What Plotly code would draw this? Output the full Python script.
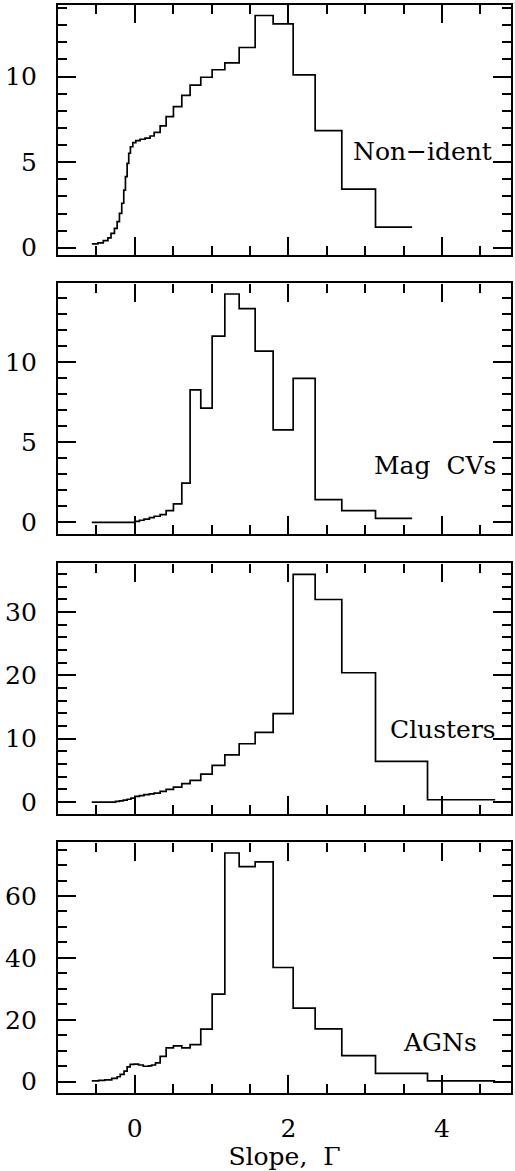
import plotly.graph_objects as go

# ---------------- data ----------------
NONIDENT_EDGES = [-0.56, -0.48, -0.41, -0.35, -0.31, -0.265, -0.23, -0.20, -0.17, -0.144,
                  -0.122, -0.10, -0.079, -0.057, -0.026, 0.013, 0.069, 0.134, 0.199,
                  0.252, 0.33, 0.408, 0.503, 0.612, 0.72, 0.859, 1.007, 1.172, 1.359,
                  1.567, 1.801, 2.062, 2.348, 2.695, 3.134, 3.611]
NONIDENT_VALUES = [0.22, 0.29, 0.41, 0.58, 0.84, 1.13, 1.52, 2.01, 2.6, 3.37,
                   4.15, 4.93, 5.52, 5.9, 6.14, 6.26, 6.34, 6.41, 6.53,
                   6.74, 7.12, 7.66, 8.25, 8.9, 9.5, 9.96, 10.4, 10.8, 11.7,
                   13.57, 13.08, 10.1, 6.84, 3.43, 1.21]

MAGCV_EDGES = [-0.56, 0.0, 0.06, 0.12, 0.19,
               0.252, 0.33, 0.408, 0.503, 0.612, 0.72, 0.859, 1.007, 1.172, 1.359,
               1.567, 1.801, 2.062, 2.348, 2.695, 3.134, 3.611]
MAGCV_VALUES = [0.0, 0.06, 0.13, 0.2, 0.3,
                0.38, 0.48, 0.73, 1.15, 2.45, 8.29, 7.14, 11.65, 14.28, 13.36,
                10.71, 5.78, 9.0, 1.42, 0.73, 0.25]

CLUSTER_EDGES = [-0.56, -0.25, -0.2, -0.15, -0.1, -0.05, 0.0, 0.06, 0.12, 0.19,
                 0.252, 0.33, 0.408, 0.503, 0.612, 0.72, 0.859, 1.007, 1.172, 1.359,
                 1.567, 1.801, 2.062, 2.348, 2.695, 3.134, 3.811, 4.692]
CLUSTER_VALUES = [0.0, 0.1, 0.2, 0.32, 0.45, 0.62, 0.9, 1.02, 1.18, 1.3,
                  1.42, 1.69, 2.0, 2.37, 2.9, 3.43, 4.4, 5.8, 7.45, 9.2,
                  11.0, 13.95, 35.9, 31.95, 20.4, 6.42, 0.37]

AGN_EDGES = [-0.56, -0.47, -0.39, -0.30, -0.23, -0.19, -0.14, -0.10, -0.06, -0.01,
             0.05, 0.11, 0.18, 0.22,
             0.27, 0.33, 0.408, 0.503, 0.612, 0.72, 0.859, 1.007, 1.172, 1.359,
             1.567, 1.801, 2.062, 2.348, 2.695, 3.134, 3.811, 4.692]
AGN_VALUES = [0.3, 0.4, 0.6, 1.1, 1.6, 2.4, 3.4, 4.8, 5.6, 5.7,
              5.4, 5.0, 5.1, 5.4,
              6.1, 8.2, 10.9, 11.6, 10.9, 12.0, 17.0, 28.3, 73.9, 69.5,
              71.0, 36.9, 23.8, 17.1, 8.4, 2.7, 0.3]

PANEL_LABELS = ["Non\u2212ident", "Mag  CVs", "Clusters", "AGNs"]
X_TITLE = "Slope,  \u0393"

# ---------------- layout ----------------
W, H = 515, 1171
LEFT = 58
RIGHT = 4
FONT = "DejaVu Serif"
tops = [4.7, 283.3, 563.3, 842.3]
PH = 250.4
yranges = [[-0.43, 14.2], [-0.71, 14.95], [-1.83, 37.66], [-3.55, 77.35]]
ymajor = [5, 5, 10, 20]
yminor = [1, 1, 2, 5]
label_pos = [(3.74, 5.65), (3.91, 3.55), (4.01, 11.4), (3.98, 12.7)]
XRANGE = [-1.0, 4.898]

series = [(NONIDENT_EDGES, NONIDENT_VALUES), (MAGCV_EDGES, MAGCV_VALUES),
          (CLUSTER_EDGES, CLUSTER_VALUES), (AGN_EDGES, AGN_VALUES)]

fig = go.Figure()
layout = dict(
    template="none",
    width=W, height=H,
    margin=dict(l=LEFT, r=RIGHT, t=0, b=0, pad=0, autoexpand=False),
    paper_bgcolor="white", plot_bgcolor="white",
    showlegend=False,
    font=dict(family=FONT, color="black"),
)

LW = 2.4
TW = 1.8
annotations = []
for i, (edges, vals) in enumerate(series):
    n = i + 1
    sx = "" if n == 1 else str(n)
    xname, yname = "x" + sx, "y" + sx
    fig.add_trace(go.Scatter(
        x=edges, y=list(vals) + [vals[-1]], mode="lines",
        line=dict(color="black", width=1.7, shape="hv"),
        xaxis=xname, yaxis=yname, hoverinfo="skip", cliponaxis=False))

    top, bot = tops[i], tops[i] + PH
    dom = [1 - bot / H, 1 - top / H]
    last = (n == 4)
    layout["xaxis" + sx] = dict(
        domain=[0, 1], anchor=yname, range=XRANGE, automargin=False,
        tickmode="linear", tick0=0, dtick=2,
        ticks="inside", ticklen=18, tickwidth=TW, tickcolor="black",
        minor=dict(dtick=0.5, tick0=0, ticks="inside", ticklen=9,
                   tickwidth=TW, tickcolor="black", showgrid=False),
        showline=True, linewidth=LW, linecolor="black", mirror="ticks",
        showgrid=False, zeroline=False,
        showticklabels=last,
        tickfont=dict(family=FONT, size=25, color="black"),
        ticklabelstandoff=12,
    )
    if last:
        layout["xaxis" + sx]["title"] = dict(
            text=X_TITLE, font=dict(family=FONT, size=25, color="black"), standoff=4)
    layout["yaxis" + sx] = dict(
        domain=dom, anchor=xname, range=yranges[i], automargin=False,
        tickmode="linear", tick0=0, dtick=ymajor[i],
        ticks="inside", ticklen=18, tickwidth=TW, tickcolor="black",
        minor=dict(dtick=yminor[i], tick0=0, ticks="inside", ticklen=9,
                   tickwidth=TW, tickcolor="black", showgrid=False),
        showline=True, linewidth=LW, linecolor="black", mirror="ticks",
        showgrid=False, zeroline=False,
        tickfont=dict(family=FONT, size=25, color="black"),
        ticklabelstandoff=14,
    )
    lx, ly = label_pos[i]
    annotations.append(dict(
        x=lx, y=ly, xref=xname, yref=yname, text=PANEL_LABELS[i],
        showarrow=False, xanchor="center", yanchor="middle",
        font=dict(family=FONT, size=25, color="black")))

layout["annotations"] = annotations
fig.update_layout(**layout)
fig.write_html("out.html")
